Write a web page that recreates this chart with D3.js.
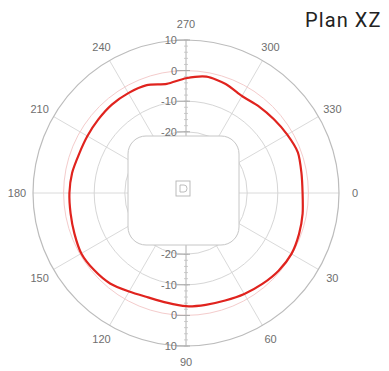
<!DOCTYPE html>
<html>
<head>
<meta charset="utf-8">
<script src="https://cdn.jsdelivr.net/npm/d3@7"></script>
<style>
  html, body { margin: 0; padding: 0; background: #fff; }
  svg { display: block; }
</style>
</head>
<body>
<svg id="chart" width="389" height="371"></svg>
<script>
// Radiation pattern, XZ plane: gain in dB versus angle (degrees, clockwise from 0 at right)
const angles = [0, 10, 20, 30, 40, 50, 60, 70, 80, 90, 100, 110, 120, 130, 140, 150, 160, 170,
                180, 190, 200, 210, 220, 230, 240, 250, 260, 270, 280, 290, 300, 310, 320, 330, 340, 350];
const gainDb = [-1.9, -1.3, -0.7, -0.2, -0.5, -1.2, -1.9, -2.6, -2.9, -3.0, -3.6, -3.7, -2.8, -1.4,
                -0.8, -0.5, -1.2, -1.7, -1.9, -2.2, -2.8, -2.8, -2.6, -2.3, -2.3, -2.5, -3.8, -2.5,
                -1.4, -2.1, -3.4, -3.0, -2.5, -1.8, -1.1, -1.7];

const angleTicks = [0, 30, 60, 90, 120, 150, 180, 210, 240, 270, 300, 330];
const ringTicks = [10, 0, -10, -20];
const title = "Plan XZ";

const cx = 186, cy = 193;
const svg = d3.select("#chart");

// radial scale: dB to pixels
const r = d3.scaleLinear().domain([-40, 10]).range([0, 153]);
const rad = a => a * Math.PI / 180;

const g = svg.append("g").attr("transform", `translate(${cx},${cy})`);

// spokes every 30 degrees
g.selectAll("line.spoke").data(angleTicks).join("line")
  .attr("class", "spoke")
  .attr("x1", 0).attr("y1", 0)
  .attr("x2", a => r(10) * Math.cos(rad(a)))
  .attr("y2", a => r(10) * Math.sin(rad(a)))
  .attr("stroke", a => (a === 90 || a === 270) ? "#b0b0b0" : "#dadada")
  .attr("stroke-width", 1);

// concentric rings
g.selectAll("circle.ring").data(ringTicks).join("circle")
  .attr("class", "ring")
  .attr("r", d => r(d))
  .attr("fill", "none")
  .attr("stroke", d => d === 0 ? "#f4cccc" : (d === 10 ? "#bcbcbc" : "#d6d6d6"))
  .attr("stroke-width", d => d === 10 ? 1.2 : 1);

// device outline in the middle
g.append("rect")
  .attr("x", 128 - cx).attr("y", 136 - cy)
  .attr("width", 111).attr("height", 109)
  .attr("rx", 18).attr("ry", 18)
  .attr("fill", "#fff")
  .attr("stroke", "#c6c6c6")
  .attr("stroke-width", 1);

// small marker icon at the origin
const icon = g.append("g").attr("transform", "translate(-3,-5)")
  .attr("fill", "none").attr("stroke", "#b4b4b4").attr("stroke-width", 0.9);
icon.append("rect").attr("x", -7).attr("y", -7).attr("width", 14).attr("height", 15);
icon.append("path").attr("d", "M-3,-3 L-3,4 L1,4 Q4,4 4,0.5 Q4,-3 1,-3 Z");

// radial axis ticks and labels along the vertical axis, above and below the centre
["top", "bottom"].forEach(side => {
  const s = side === "top" ? -1 : 1;
  const minor = d3.range(-20, 10.01, 2);
  g.selectAll(`line.minor-${side}`).data(minor).join("line")
    .attr("class", `minor-${side}`)
    .attr("x1", -2).attr("x2", 2)
    .attr("y1", d => s * r(d)).attr("y2", d => s * r(d))
    .attr("stroke", "#c2c2c2").attr("stroke-width", 0.8);
  g.selectAll(`line.major-${side}`).data(ringTicks).join("line")
    .attr("class", `major-${side}`)
    .attr("x1", -9).attr("x2", 4)
    .attr("y1", d => s * r(d)).attr("y2", d => s * r(d))
    .attr("stroke", "#a8a8a8").attr("stroke-width", 1);
  g.selectAll(`text.rlabel-${side}`).data(ringTicks).join("text")
    .attr("class", `rlabel-${side}`)
    .attr("x", -9).attr("y", d => s * r(d))
    .attr("text-anchor", "end")
    .attr("dominant-baseline", "central")
    .attr("font-family", "Liberation Sans, Arial, sans-serif")
    .attr("font-size", 11)
    .attr("fill", "#707070")
    .text(d => d);
});

// angle labels
g.selectAll("text.alabel").data(angleTicks).join("text")
  .attr("class", "alabel")
  .attr("x", a => 169 * Math.cos(rad(a)))
  .attr("y", a => 169 * Math.sin(rad(a)))
  .attr("text-anchor", "middle")
  .attr("dominant-baseline", "central")
  .attr("font-family", "Liberation Sans, Arial, sans-serif")
  .attr("font-size", 11)
  .attr("fill", "#6e6e6e")
  .text(a => a);

// pattern trace
const pts = angles.map((a, i) => ({ a, db: gainDb[i] }));
const line = d3.lineRadial()
  .angle(d => rad(d.a + 90))
  .radius(d => r(d.db))
  .curve(d3.curveCardinalClosed.tension(0.3));
g.append("path")
  .datum(pts)
  .attr("d", line)
  .attr("fill", "none")
  .attr("stroke", "#e0231e")
  .attr("stroke-width", 2.2)
  .attr("stroke-linejoin", "round");

// title
svg.append("text")
  .attr("x", 305).attr("y", 27)
  .attr("font-family", "Roboto, sans-serif")
  .attr("font-size", 20)
  .attr("letter-spacing", 1.1)
  .attr("fill", "#222")
  .text(title);
</script>
</body>
</html>
